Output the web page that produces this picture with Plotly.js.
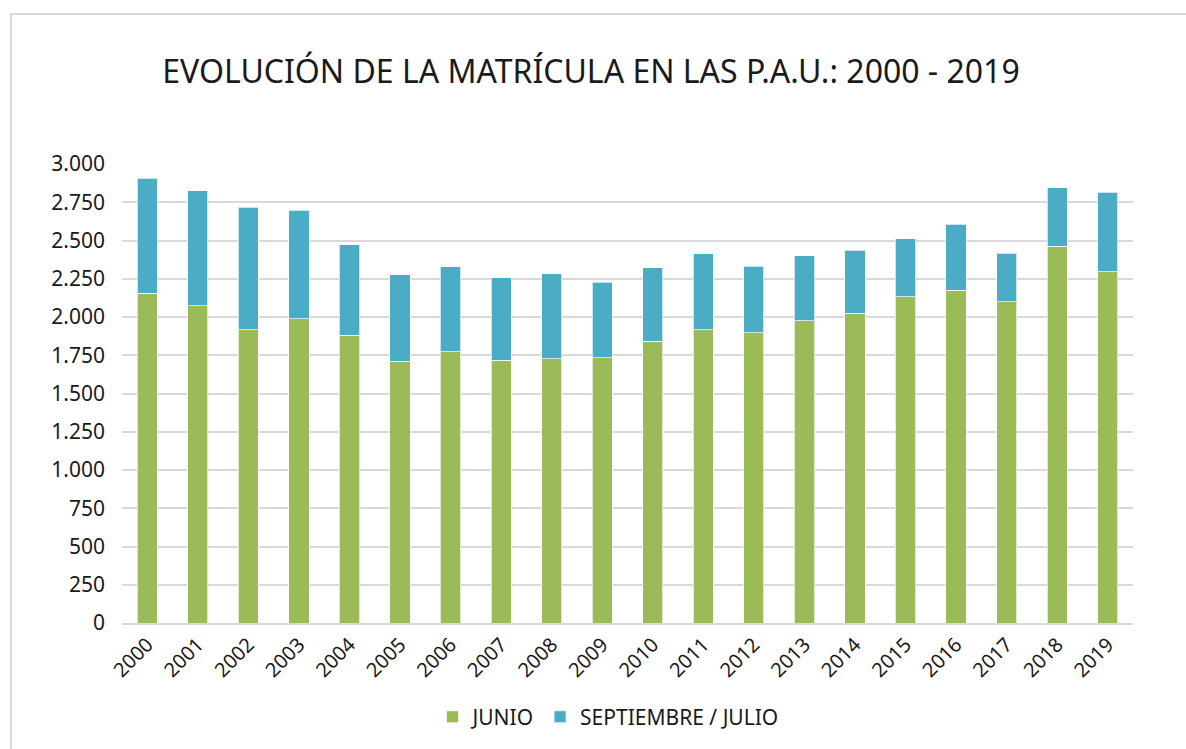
<!DOCTYPE html>
<html>
<head>
<meta charset="utf-8">
<script src="https://cdn.plot.ly/plotly-3.0.1.min.js"></script>
<style>
  html, body { margin: 0; padding: 0; background: #fff; }
  #wrap { position: relative; width: 1186px; height: 749px; overflow: hidden; }
  #chart { width: 1186px; height: 749px; }
  #frame { position: absolute; left: 10px; top: 13px; width: 1200px; height: 760px;
           border-left: 2px solid #d9d9d9; border-top: 2px solid #d9d9d9; pointer-events: none; }
</style>
</head>
<body>
<div id="wrap">
  <div id="chart"></div>
  <div id="frame"></div>
</div>
<script>
const years = ['2000','2001','2002','2003','2004','2005','2006','2007','2008','2009',
               '2010','2011','2012','2013','2014','2015','2016','2017','2018','2019'];
const junio = [2155, 2075, 1918, 1989, 1880, 1712, 1772, 1718, 1727, 1735,
               1843, 1916, 1897, 1974, 2024, 2131, 2174, 2101, 2462, 2295];
const septiembreJulio = [753, 749, 798, 708, 593, 565, 555, 540, 555, 493,
                         480, 499, 436, 426, 413, 381, 432, 316, 383, 522];
const seriesNames = ['JUNIO', 'SEPTIEMBRE / JULIO'];
const colors = ['#9BBB59', '#4BACC6'];

const FONT = 'Noto Sans, Open Sans, sans-serif';

const traces = [
  { type: 'bar', name: seriesNames[0], x: years, y: junio,
    marker: { color: colors[0], line: { color: 'rgba(255,255,255,0.7)', width: 1 } } },
  { type: 'bar', name: seriesNames[1], x: years, y: septiembreJulio,
    marker: { color: colors[1], line: { color: 'rgba(255,255,255,0.7)', width: 1 } } }
];

const layout = {
  width: 1186, height: 749,
  barmode: 'stack',
  bargap: 0.6,
  separators: ',.',
  paper_bgcolor: '#ffffff',
  plot_bgcolor: '#ffffff',
  margin: { l: 122, r: 53, t: 164, b: 120 },
  font: { family: FONT, color: '#1a1a1a' },
  title: {
    text: 'EVOLUCIÓN DE LA MATRÍCULA EN LAS P.A.U.: 2000 - 2019',
    font: { family: FONT, size: 32, color: '#1a1a1a' },
    x: 591/1186, xanchor: 'center', xref: 'container',
    y: 1 - 72/749, yanchor: 'middle', yref: 'container'
  },
  xaxis: {
    type: 'category',
    tickangle: -45,
    tickfont: { family: FONT, size: 20, color: '#1a1a1a' },
    showgrid: false,
    showline: true, linecolor: '#d9d9d9', linewidth: 2,
    ticks: '', ticklen: 0
  },
  yaxis: {
    range: [0, 3000],
    dtick: 250,
    tickformat: ',d',
    tickfont: { family: FONT, size: 21, color: '#1a1a1a' },
    ticklabelstandoff: 16,
    showgrid: true, gridcolor: '#d9d9d9', gridwidth: 2,
    zeroline: false,
    showline: false,
    ticks: '', ticklen: 0
  },
  legend: {
    orientation: 'h',
    traceorder: 'normal',
    x: (608 - 122) / 1011, xanchor: 'center',
    y: -0.205, yanchor: 'middle',
    font: { family: FONT, size: 21, color: '#1a1a1a' },
    itemwidth: 30
  },
  showlegend: true
};

Plotly.newPlot('chart', traces, layout, { displayModeBar: false, staticPlot: true });
</script>
</body>
</html>
